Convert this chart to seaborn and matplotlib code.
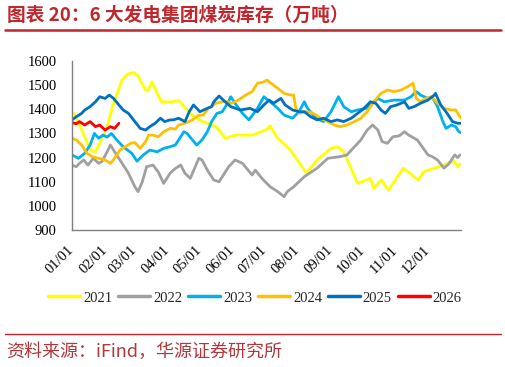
import matplotlib
matplotlib.use('Agg')
import matplotlib.pyplot as plt
from matplotlib.lines import Line2D
import seaborn as sns
import pandas as pd

# ---------------- data (day of year, value in 万吨) ----------------
years = ['2021', '2022', '2023', '2024', '2025', '2026']
colors = ['#FFFF00', '#A0A0A0', '#00B0F0', '#FFC000', '#0070C0', '#FF0000']

days_2021 = [2, 12, 17, 22, 26, 33, 39, 47, 52, 58, 62, 69, 71, 75, 80, 84, 92, 100, 104, 111,
             119, 135, 144, 153, 169, 182, 186, 192, 205, 220, 230, 243, 249, 255, 268, 280,
             283, 290, 297, 311, 325, 330, 340, 349, 358, 362, 364]
vals_2021 = [1383, 1286, 1231, 1223, 1259, 1328, 1426, 1521, 1546, 1552, 1538, 1480, 1476, 1514,
             1466, 1431, 1430, 1436, 1418, 1383, 1356, 1328, 1280, 1293, 1293, 1314, 1331, 1285,
             1231, 1136, 1190, 1238, 1245, 1224, 1093, 1114, 1073, 1107, 1066, 1156, 1107, 1142,
             1156, 1169, 1187, 1162, 1173]

days_2022 = [0, 4, 7, 11, 15, 20, 25, 28, 33, 36, 40, 45, 53, 59, 62, 66, 70, 76, 81, 86, 92,
             97, 102, 106, 111, 119, 122, 127, 133, 138, 147, 153, 160, 169, 172, 179, 186, 193,
             199, 202, 208, 218, 230, 240, 252, 258, 271, 277, 282, 287, 291, 296, 301, 307,
             312, 316, 324, 334, 338, 343, 349, 354, 359, 362, 364]
vals_2022 = [1169, 1162, 1176, 1190, 1169, 1197, 1176, 1183, 1224, 1252, 1224, 1190, 1135, 1079,
             1059, 1100, 1162, 1169, 1140, 1093, 1135, 1155, 1169, 1135, 1114, 1197, 1190, 1148,
             1107, 1100, 1162, 1190, 1176, 1128, 1148, 1110, 1079, 1059, 1038, 1059, 1079, 1121,
             1156, 1197, 1204, 1211, 1273, 1314, 1335, 1314, 1266, 1259, 1286, 1290, 1307, 1293,
             1273, 1211, 1204, 1190, 1156, 1176, 1211, 1200, 1211]

days_2023 = [0, 6, 12, 17, 21, 25, 29, 33, 37, 42, 48, 56, 61, 67, 73, 80, 86, 92, 97, 100, 105,
             108, 113, 117, 122, 127, 131, 136, 141, 146, 149, 153, 160, 166, 174, 180, 186, 193,
             199, 207, 213, 218, 221, 229, 236, 243, 250, 255, 262, 268, 276, 282, 287, 293, 302,
             312, 318, 323, 327, 334, 338, 343, 348, 351, 356, 360, 363, 365]
vals_2023 = [1211, 1197, 1218, 1252, 1300, 1280, 1293, 1285, 1300, 1273, 1245, 1218, 1185, 1211,
             1231, 1224, 1238, 1245, 1252, 1273, 1307, 1300, 1273, 1252, 1273, 1307, 1349, 1383,
             1390, 1425, 1452, 1425, 1383, 1356, 1404, 1452, 1431, 1404, 1376, 1363, 1390, 1431,
             1404, 1363, 1349, 1390, 1452, 1411, 1390, 1397, 1404, 1425, 1445, 1431, 1438, 1438,
             1452, 1473, 1459, 1445, 1450, 1411, 1349, 1321, 1335, 1328, 1307, 1303]

days_2024 = [0, 4, 9, 14, 19, 25, 31, 36, 40, 45, 50, 55, 59, 64, 69, 72, 76, 81, 86, 92, 97,
             100, 106, 113, 119, 123, 128, 135, 141, 146, 150, 156, 163, 169, 174, 179, 183, 186,
             193, 199, 205, 208, 210, 214, 219, 224, 229, 233, 240, 246, 252, 258, 265, 271, 277,
             283, 290, 296, 302, 309, 315, 320, 323, 327, 332, 337, 343, 349, 356, 360, 363, 365]
vals_2024 = [1280, 1273, 1252, 1218, 1204, 1197, 1190, 1176, 1197, 1231, 1245, 1259, 1262, 1238,
             1266, 1293, 1293, 1286, 1307, 1321, 1318, 1335, 1342, 1356, 1376, 1376, 1404, 1425,
             1431, 1431, 1425, 1438, 1459, 1473, 1508, 1512, 1521, 1510, 1487, 1466, 1459, 1459,
             1404, 1383, 1390, 1388, 1376, 1363, 1349, 1335, 1328, 1335, 1349, 1363, 1390, 1431,
             1466, 1480, 1473, 1480, 1494, 1508, 1445, 1431, 1445, 1452, 1425, 1404, 1397, 1397,
             1376, 1363]

days_2025 = [0, 4, 9, 12, 17, 22, 26, 31, 35, 39, 44, 48, 53, 59, 64, 69, 73, 78, 83, 87, 92, 95,
             100, 106, 110, 114, 120, 127, 131, 133, 138, 142, 149, 158, 167, 174, 180, 185, 189,
             196, 200, 207, 213, 218, 224, 230, 236, 243, 249, 255, 262, 268, 274, 280, 285, 290,
             294, 299, 305, 312, 316, 321, 327, 334, 340, 341, 346, 352, 357, 362, 365]
vals_2025 = [1356, 1369, 1383, 1397, 1411, 1431, 1452, 1445, 1459, 1445, 1418, 1397, 1383, 1349,
             1321, 1314, 1328, 1342, 1363, 1349, 1356, 1356, 1363, 1349, 1390, 1418, 1390, 1404,
             1411, 1431, 1455, 1438, 1411, 1397, 1404, 1390, 1418, 1438, 1425, 1445, 1418, 1397,
             1390, 1390, 1369, 1356, 1363, 1349, 1356, 1349, 1363, 1383, 1404, 1431, 1425, 1397,
             1383, 1411, 1418, 1431, 1404, 1411, 1425, 1438, 1459, 1466, 1418, 1383, 1349, 1342,
             1342]

days_2026 = [0, 4, 7, 12, 17, 22, 26, 31, 36, 40, 44]
vals_2026 = [1345, 1340, 1349, 1335, 1349, 1328, 1335, 1314, 1328, 1321, 1342]

month_days = [0, 31, 59, 90, 120, 151, 181, 212, 243, 273, 304, 334]
month_labels = ['01/01', '02/01', '03/01', '04/01', '05/01', '06/01',
                '07/01', '08/01', '09/01', '10/01', '11/01', '12/01']
y_ticks = [900, 1000, 1100, 1200, 1300, 1400, 1500, 1600]

title_text = '图表 20：6 大发电集团煤炭库存（万吨）'
source_text = '资料来源：iFind，华源证券研究所'

# ---------------- build table ----------------
all_days = [days_2021, days_2022, days_2023, days_2024, days_2025, days_2026]
all_vals = [vals_2021, vals_2022, vals_2023, vals_2024, vals_2025, vals_2026]
frames = [pd.DataFrame({'day': d, 'value': v, 'year': y})
          for y, d, v in zip(years, all_days, all_vals)]
df = pd.concat(frames, ignore_index=True)
palette = dict(zip(years, colors))

# ---------------- figure ----------------
sns.set_style('white')
plt.rcParams['font.family'] = ['Liberation Serif', 'DejaVu Sans']

W, H = 506, 367
fig = plt.figure(figsize=(W / 100, H / 100), dpi=100)
ax = fig.add_axes([72 / W, 1 - 230 / H, (461 - 72) / W, (230 - 61) / H])

sns.lineplot(data=df, x='day', y='value', hue='year', palette=palette,
             estimator=None, sort=False, linewidth=2.0, ax=ax, legend=False)

ax.set_xlim(0, 365)
ax.set_ylim(900, 1600)
ax.set_yticks(y_ticks)
ax.set_yticklabels([str(t) for t in y_ticks])
ax.set_xticks(month_days + [365])
ax.set_xticklabels(month_labels + [''], rotation=45, ha='right', va='center',
                   rotation_mode='anchor')
ax.set_xlabel('')
ax.set_ylabel('')

axis_color = '#808080'
for side in ['top', 'right']:
    ax.spines[side].set_visible(False)
for side in ['left', 'bottom']:
    ax.spines[side].set_color(axis_color)
    ax.spines[side].set_linewidth(1.0)
ax.tick_params(axis='both', direction='in', length=4, width=1.0, color=axis_color,
               labelsize=10.5, labelcolor='black')
ax.tick_params(axis='x', pad=13)
ax.tick_params(axis='y', pad=11)
ax.grid(False)

# legend
handles = [Line2D([0], [0], color=c, lw=2.5) for c in colors]
fig.legend(handles, years, loc='center', bbox_to_anchor=(255 / W, 1 - 298 / H), ncol=6,
           frameon=False, fontsize=10.5, handlelength=2.2, handletextpad=0.2,
           columnspacing=0.4, borderpad=0)

# title and source
red = '#C0272D'
fig.text(7 / W, 1 - 15 / H, title_text, color=red, fontsize=13.5, fontweight='bold',
         ha='left', va='center', family=['Noto Sans CJK SC', 'DejaVu Sans'])
fig.add_artist(Line2D([5 / W, 501 / W], [1 - 29.5 / H, 1 - 29.5 / H], color=red, lw=1.8))
fig.add_artist(Line2D([5 / W, 501 / W], [1 - 333.5 / H, 1 - 333.5 / H], color=red, lw=1.0))
fig.text(6 / W, 1 - 352 / H, source_text, color='#B0383D', fontsize=13,
         ha='left', va='center', family=['Noto Sans CJK SC', 'DejaVu Sans'])

fig.savefig('out.png', dpi=100)
